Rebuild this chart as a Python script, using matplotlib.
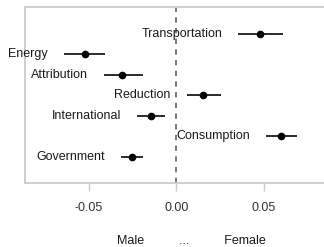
import matplotlib
matplotlib.use("Agg")
import matplotlib.pyplot as plt

labels = ["Transportation", "Energy", "Attribution", "Reduction",
          "International", "Consumption", "Government"]
estimates = [0.048, -0.0523, -0.0309, 0.0154, -0.0146, 0.0598, -0.0255]
ci_low = [0.0354, -0.0642, -0.0415, 0.0059, -0.0223, 0.0511, -0.0318]
ci_high = [0.061, -0.0407, -0.0192, 0.0254, -0.0063, 0.0688, -0.0192]
xticks = [-0.05, 0.0, 0.05]
xticklabels = ["-0.05", "0.00", "0.05"]
xlabel = "Male" + " " * 10 + "..." + " " * 10 + "Female"

plt.rcParams["font.family"] = ["Liberation Sans", "DejaVu Sans"]

fig = plt.figure(figsize=(3.24, 2.47), dpi=100)
W, H = 324, 247
left_px, right_px, top_px, bot_px = 25, 360, 6.5, 183
zero_px, px_per_unit = 176.3, 1750.0
ax = fig.add_axes([left_px / W, 1 - bot_px / H, (right_px - left_px) / W, (bot_px - top_px) / H])

n = len(labels)
ys = [n - i for i in range(n)]

ax.axvline(0, color="#555555", lw=1.1, dashes=(3.5, 3.5), zorder=1)
for y, est, lo, hi, lab in zip(ys, estimates, ci_low, ci_high, labels):
    ax.plot([lo, hi], [y, y], color="#1a1a1a", lw=1.3, solid_capstyle="butt", zorder=2)
    ax.plot([est], [y], "o", color="black", ms=4.5, zorder=3)
    ax.annotate(lab, xy=(lo, y), xytext=(-11.5, 0), textcoords="offset points",
                ha="right", va="center", fontsize=9, color="#1a1a1a")

ax.set_xlim((left_px - zero_px) / px_per_unit, (right_px - zero_px) / px_per_unit)
ax.set_ylim(-0.27, 8.34)
ax.set_yticks([])
ax.set_xticks(xticks)
ax.set_xticklabels(xticklabels)
ax.tick_params(axis="x", length=5.5, width=1.0, color="#cccccc", pad=8,
               labelsize=9, labelcolor="#333333")
for s in ["top", "bottom", "left"]:
    ax.spines[s].set_color("#cccccc")
    ax.spines[s].set_linewidth(1.3)
ax.spines["right"].set_visible(False)

ax.set_xlabel(xlabel, fontsize=9, color="#1a1a1a")
ax.xaxis.set_label_coords((191 - left_px) / (right_px - left_px), (bot_px - 235) / (bot_px - top_px))
ax.xaxis.label.set_va("top")

fig.savefig("out.png", dpi=100)
